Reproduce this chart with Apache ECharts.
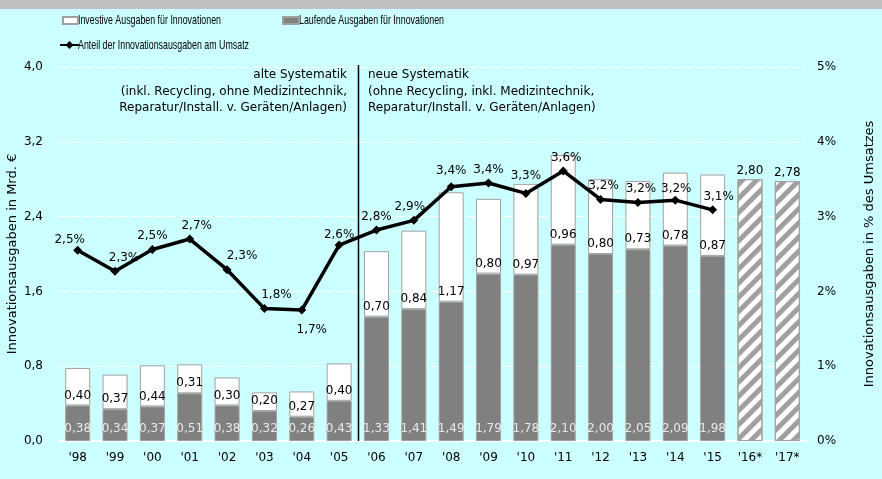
<!DOCTYPE html>
<html><head><meta charset="utf-8">
<script src="https://cdn.jsdelivr.net/npm/echarts@6/dist/echarts.min.js"></script>
<style>html,body{margin:0;padding:0;background:#ccffff}#c{width:882px;height:479px}</style>
</head><body><div id="c"></div>
<script>
const categories = ["'98","'99","'00","'01","'02","'03","'04","'05","'06","'07","'08","'09","'10","'11","'12","'13","'14","'15","'16*","'17*"];
const laufende = [0.38,0.34,0.37,0.51,0.38,0.32,0.26,0.43,1.33,1.41,1.49,1.79,1.78,2.10,2.00,2.05,2.09,1.98,null,null];
const investive = [0.40,0.37,0.44,0.31,0.30,0.20,0.27,0.40,0.70,0.84,1.17,0.80,0.97,0.96,0.80,0.73,0.78,0.87,null,null];
const prognose = [null,null,null,null,null,null,null,null,null,null,null,null,null,null,null,null,null,null,2.80,2.78];
const anteil = [2.55,2.27,2.56,2.70,2.29,1.77,1.75,2.62,2.82,2.95,3.40,3.45,3.31,3.61,3.23,3.19,3.22,3.09,null,null];
const anteilLabels = ["2,5%","2,3%","2,5%","2,7%","2,3%","1,8%","1,7%","2,6%","2,8%","2,9%","3,4%","3,4%","3,3%","3,6%","3,2%","3,2%","3,2%","3,1%",null,null];
const leftTicks = {min:0,max:4,interval:0.8};
const rightTicks = {min:0,max:5,interval:1};
const seriesNames = ['Investive Ausgaben für Innovationen','Laufende Ausgaben für Innovationen','Anteil der Innovationsausgaben am Umsatz'];

const FONT = "'DejaVu Sans', Verdana, sans-serif";
const NARROW = "'Liberation Sans', Arial, sans-serif";
const fmt = v => v.toFixed(2).replace('.', ',');

const labelOffsets = {0: [-8, 3], 1: [9, 0], 3: [7, 0], 4: [15, 0], 5: [12, 0], 6: [10, 0], 7: [0, 3], 9: [-4, 0],
  10: [0, -2], 12: [0, -4], 13: [3, 0], 14: [3, 0], 15: [3, 0], 16: [1, 2], 17: [6, 1]};
const lineData = anteil.map((v, i) => {
  if (v == null) return v;
  const o = {value: v, label: {}};
  if (labelOffsets[i]) o.label.offset = labelOffsets[i];
  if (i === 6) { o.label.position = 'bottom'; o.label.distance = 9; }
  return o;
});

const chart = echarts.init(document.getElementById('c'));
const legendText = {fontFamily: NARROW, fontSize: 12, color: '#000'};
chart.setOption({
  backgroundColor: '#ccffff',
  animation: false,
  textStyle: {fontFamily: FONT},
  grid: {left: 59, right: 76, top: 67, bottom: 38, outerBoundsMode: 'none', containLabel: false},
  legend: [
    {left: 62, top: 16, padding: 0, itemWidth: 15, itemHeight: 7, formatter: () => '', textStyle: legendText,
     data: [{name: seriesNames[0], icon: 'rect'}]},
    {left: 282, top: 16, padding: 0, itemWidth: 16, itemHeight: 7, formatter: () => '', textStyle: legendText,
     data: [{name: seriesNames[1], icon: 'rect'}]},
    {left: 59, top: 40, padding: 0, itemWidth: 19, itemHeight: 10, formatter: () => '', textStyle: legendText,
     data: [seriesNames[2]]}
  ],
  graphic: [
    {id: 'band', type: 'rect', left: 0, top: 0, shape: {width: 882, height: 9}, style: {fill: '#c0c0c0'}, z: 10},
    {id: 'lg0', type: 'text', x: 78, y: 20, scaleX: 0.68, style: {text: seriesNames[0], font: '13px ' + NARROW, fill: '#000', verticalAlign: 'middle'}},
    {id: 'lg1', type: 'text', x: 299, y: 20, scaleX: 0.68, style: {text: seriesNames[1], font: '13px ' + NARROW, fill: '#000', verticalAlign: 'middle'}},
    {id: 'lg2', type: 'text', x: 78, y: 45, scaleX: 0.68, style: {text: seriesNames[2], font: '13px ' + NARROW, fill: '#000', verticalAlign: 'middle'}},
    {id: 'alt', type: 'text', x: 347, y: 67, style: {text: 'alte Systematik\n(inkl. Recycling, ohne Medizintechnik,\nReparatur/Install. v. Geräten/Anlagen)', font: '12px ' + FONT, fill: '#000', align: 'right', lineHeight: 16.5}},
    {id: 'neu', type: 'text', x: 368, y: 67, style: {text: 'neue Systematik\n(ohne Recycling, inkl. Medizintechnik,\nReparatur/Install. v. Geräten/Anlagen)', font: '12px ' + FONT, fill: '#000', align: 'left', lineHeight: 16.5}}
  ],
  xAxis: {
    type: 'category', data: categories,
    axisLine: {lineStyle: {color: '#ffffff', width: 2}},
    axisTick: {show: false},
    axisLabel: {color: '#000', fontSize: 12, margin: 11, fontFamily: FONT},
    splitLine: {show: false}
  },
  yAxis: [
    {type: 'value', ...leftTicks, position: 'left',
     name: 'Innovationsausgaben in Mrd. €', nameLocation: 'middle', nameGap: 40, nameMoveOverlap: false,
     nameTextStyle: {fontSize: 13, color: '#000', fontFamily: FONT},
     axisLabel: {formatter: v => v.toFixed(1).replace('.', ','), color: '#000', fontSize: 12, margin: 16},
     axisLine: {show: false}, axisTick: {show: false},
     splitLine: {lineStyle: {color: '#ffffff', type: [9, 3], width: 1}}},
    {type: 'value', ...rightTicks, position: 'right',
     name: 'Innovationsausgaben in % des Umsatzes', nameLocation: 'middle', nameGap: 57, nameRotate: 90, nameMoveOverlap: false,
     nameTextStyle: {fontSize: 13, color: '#000', fontFamily: FONT},
     axisLabel: {formatter: v => v + '%', color: '#000', fontSize: 12, margin: 11},
     axisLine: {show: false}, axisTick: {show: false}, splitLine: {show: false}}
  ],
  series: [
    {name: seriesNames[1], type: 'bar', stack: 's', data: laufende, barWidth: 25,
     itemStyle: {color: '#808080', borderColor: '#a0a0a0', borderWidth: 1},
     label: {show: true, position: 'insideBottom', distance: 6, color: '#e8e8e8', fontSize: 12, formatter: p => fmt(p.value)}},
    {name: seriesNames[0], type: 'bar', stack: 's', data: investive, barWidth: 25,
     itemStyle: {color: '#ffffff', borderColor: '#a0a0a0', borderWidth: 1},
     label: {show: true, position: 'insideBottom', distance: 4, color: '#000', fontSize: 12, formatter: p => fmt(p.value)}},
    {name: 'Prognose', type: 'bar', stack: 's', data: prognose, barWidth: 25,
     itemStyle: {color: '#ffffff', borderColor: '#a0a0a0', borderWidth: 1,
       decal: {symbol: 'rect', symbolSize: 1, dashArrayX: [1, 0], dashArrayY: [5, 5], rotation: -Math.PI / 4, color: '#a0a0a0'}},
     label: {show: true, position: 'top', distance: 2, color: '#000', fontSize: 12, formatter: p => fmt(p.value)}},
    {name: seriesNames[2], type: 'line', yAxisIndex: 1, data: lineData,
     symbol: 'diamond', symbolSize: 9, z: 5,
     lineStyle: {color: '#000', width: 3.5}, itemStyle: {color: '#000'},
     label: {show: true, position: 'top', distance: 3, color: '#000', fontSize: 12,
       formatter: p => anteilLabels[p.dataIndex]}}
  ]
});
// separator between old and new systematics: midway between '05 and '06
const xa = chart.convertToPixel({xAxisIndex: 0}, categories[7]);
const xb = chart.convertToPixel({xAxisIndex: 0}, categories[8]);
const yTop = chart.convertToPixel({yAxisIndex: 0}, leftTicks.max);
const yBot = chart.convertToPixel({yAxisIndex: 0}, leftTicks.min);
const xs = Math.round((xa + xb) / 2) + 0.5;
chart.setOption({graphic: [{id: 'sep', type: 'line', shape: {x1: xs, y1: yTop - 2, x2: xs, y2: yBot}, style: {stroke: '#000', lineWidth: 1.5}, z: 3}]});
</script></body></html>
